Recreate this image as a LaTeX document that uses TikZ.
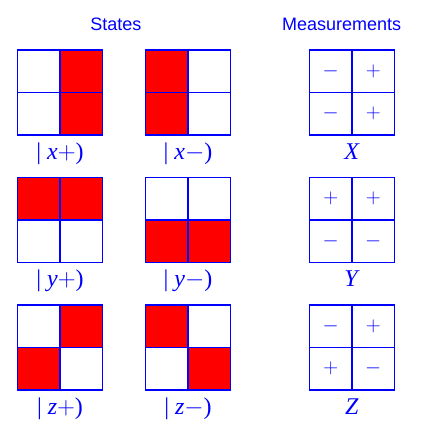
\documentclass[tikz,border=0pt]{standalone}
\usepackage{fontspec}
\setmainfont{Liberation Serif}
\newfontfamily\titlefont{Liberation Sans}
\newcommand{\lp}{{\fontsize{23bp}{23bp}\selectfont$+$}}
\newcommand{\lm}{{\fontsize{23bp}{23bp}\selectfont$-$}}
\tikzset{
  cell/.style={draw=blue, line width=1.3bp, minimum size=42.5bp, inner sep=0pt, outer sep=0pt, anchor=north west},
  redcell/.style={cell, fill=red},
  sign/.style={text=blue, font=\fontsize{21bp}{21bp}\selectfont, inner sep=0pt},
  lab/.style={text=blue, font=\fontsize{24bp}{24bp}\selectfont, anchor=base, inner sep=0pt},
  ttl/.style={text=blue, font=\titlefont\fontsize{18bp}{18bp}\selectfont, anchor=base, inner sep=0pt}
}
\begin{document}
\begin{tikzpicture}[x=1bp, y=-1bp]
\useasboundingbox (0,0) rectangle (435,424);
% titles
\node[ttl] (tS) at (115.8,30.7) {States};
\node[ttl] (tM) at (341.7,30.7) {Measurements};
% ---- row 1: x ----
\node[cell]    (xp11) at (17.5,50) {};
\node[redcell] (xp12) at (60,50) {};
\node[cell]    (xp21) at (17.5,92.5) {};
\node[redcell] (xp22) at (60,92.5) {};
\node[redcell] (xm11) at (145.5,50) {};
\node[cell]    (xm12) at (188,50) {};
\node[redcell] (xm21) at (145.5,92.5) {};
\node[cell]    (xm22) at (188,92.5) {};
\node[cell] (mx11) at (309.5,50) {}; \node[sign] at (mx11.center) {$-$};
\node[cell] (mx12) at (352,50) {};   \node[sign] at (mx12.center) {$+$};
\node[cell] (mx21) at (309.5,92.5) {}; \node[sign] at (mx21.center) {$-$};
\node[cell] (mx22) at (352,92.5) {};   \node[sign] at (mx22.center) {$+$};
\node[lab] (lxp) at (60,159.3) {| \textit{x}\lp)};
\node[lab] (lxm) at (188,159.3) {| \textit{x}\lm)};
\node[lab] (lX) at (352,159.3) {\textit{X}};
% ---- row 2: y ----
\node[redcell] (yp11) at (17.5,177.5) {};
\node[redcell] (yp12) at (60,177.5) {};
\node[cell]    (yp21) at (17.5,220) {};
\node[cell]    (yp22) at (60,220) {};
\node[cell]    (ym11) at (145.5,177.5) {};
\node[cell]    (ym12) at (188,177.5) {};
\node[redcell] (ym21) at (145.5,220) {};
\node[redcell] (ym22) at (188,220) {};
\node[cell] (my11) at (309.5,177.5) {}; \node[sign] at (my11.center) {$+$};
\node[cell] (my12) at (352,177.5) {};   \node[sign] at (my12.center) {$+$};
\node[cell] (my21) at (309.5,220) {};   \node[sign] at (my21.center) {$-$};
\node[cell] (my22) at (352,220) {};     \node[sign] at (my22.center) {$-$};
\node[lab] (lyp) at (60,286.8) {| \textit{y}\lp)};
\node[lab] (lym) at (188,286.8) {| \textit{y}\lm)};
\node[lab] (lY) at (352,286.8) {\textit{Y}};
% ---- row 3: z ----
\node[cell]    (zp11) at (17.5,305) {};
\node[redcell] (zp12) at (60,305) {};
\node[redcell] (zp21) at (17.5,347.5) {};
\node[cell]    (zp22) at (60,347.5) {};
\node[redcell] (zm11) at (145.5,305) {};
\node[cell]    (zm12) at (188,305) {};
\node[cell]    (zm21) at (145.5,347.5) {};
\node[redcell] (zm22) at (188,347.5) {};
\node[cell] (mz11) at (309.5,305) {}; \node[sign] at (mz11.center) {$-$};
\node[cell] (mz12) at (352,305) {};   \node[sign] at (mz12.center) {$+$};
\node[cell] (mz21) at (309.5,347.5) {}; \node[sign] at (mz21.center) {$+$};
\node[cell] (mz22) at (352,347.5) {};   \node[sign] at (mz22.center) {$-$};
\node[lab] (lzp) at (60,414.3) {| \textit{z}\lp)};
\node[lab] (lzm) at (188,414.3) {| \textit{z}\lm)};
\node[lab] (lZ) at (352,414.3) {\textit{Z}};
\end{tikzpicture}
\end{document}
